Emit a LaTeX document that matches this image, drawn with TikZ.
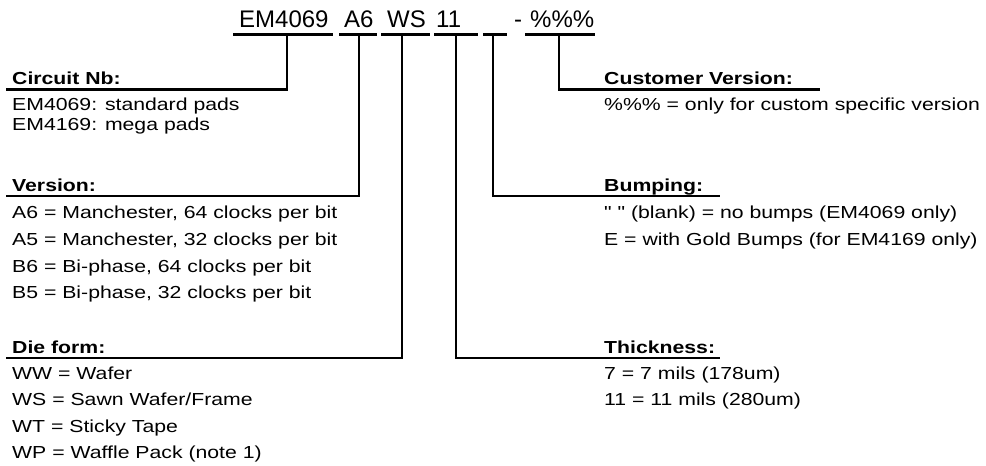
\documentclass[tikz,border=0pt]{standalone}
\usepackage{fontspec}
\setmainfont{Liberation Sans}
\newfontfamily\bodyf[FakeStretch=1.22]{Liberation Sans}
\newfontfamily\codef{Liberation Sans}
\begin{document}
\begin{tikzpicture}[x=1pt,y=-1pt,
  codetxt/.style={font=\codef\fontsize{24}{28}\selectfont, inner sep=0pt, anchor=base west},
  hdr/.style={font=\bodyf\fontsize{17.4}{20}\selectfont\bfseries, inner sep=0pt, anchor=base west},
  txt/.style={font=\bodyf\fontsize{17.4}{20}\selectfont, inner sep=0pt, anchor=base west},
  ubar/.style={fill=black, draw=none, inner sep=0pt, minimum height=3pt},
  conn/.style={line width=2.8pt}]
\useasboundingbox (0,0) rectangle (986,466);

% part number code
\node[codetxt] (tEM) at (239,27) {EM4069};
\node[codetxt] (tA6) at (344,27) {A6};
\node[codetxt] (tWS) at (387,27) {WS};
\node[codetxt] (t11) at (436,27) {11};
\node[codetxt] (tdash) at (514,27) {-};
\node[codetxt] (tpct) at (530,27) {\%\%\%};

\node[ubar, minimum width=100pt] (bEM) at (283,34.5) {};
\node[ubar, minimum width=38pt] (bA6) at (358,34.5) {};
\node[ubar, minimum width=49pt] (bWS) at (405.5,34.5) {};
\node[ubar, minimum width=44pt] (b11) at (456,34.5) {};
\node[ubar, minimum width=24pt] (bBl) at (495,34.5) {};
\node[ubar, minimum width=70pt] (bPct) at (560,34.5) {};

% left column
\node[hdr] (hCirc) at (12,84) {Circuit Nb:};
\node[txt] (c1) at (12,110) {EM4069: standard pads};
\node[txt] (c2) at (12,130) {EM4169: mega pads};

\node[hdr] (hVer) at (12,191.5) {Version:};
\node[txt] (v1) at (12,218) {A6 = Manchester, 64 clocks per bit};
\node[txt] (v2) at (12,245) {A5 = Manchester, 32 clocks per bit};
\node[txt] (v3) at (12,272) {B6 = Bi-phase, 64 clocks per bit};
\node[txt] (v4) at (12,298) {B5 = Bi-phase, 32 clocks per bit};

\node[hdr] (hDie) at (12,353.5) {Die form:};
\node[txt] (d1) at (12,379) {WW = Wafer};
\node[txt] (d2) at (12,405.5) {WS = Sawn Wafer/Frame};
\node[txt] (d3) at (12,432) {WT = Sticky Tape};
\node[txt] (d4) at (12,458) {WP = Waffle Pack (note 1)};

% right column
\node[hdr] (hCust) at (604,84) {Customer Version:};
\node[txt] (u1) at (604,110) {\%\%\% = only for custom specific version};

\node[hdr] (hBump) at (604,191.5) {Bumping:};
\node[txt] (p1) at (604,218) {\char34\ \char34\ (blank) = no bumps (EM4069 only)};
\node[txt] (p2) at (604,245) {E = with Gold Bumps (for EM4169 only)};

\node[hdr] (hThk) at (604,353.5) {Thickness:};
\node[txt] (k1) at (604,379) {7 = 7 mils (178um)};
\node[txt] (k2) at (604,405.5) {11 = 11 mils (280um)};

% connector ends (header underlines)
\coordinate (eCirc) at (6,89.5);
\coordinate (eVer) at (6,196);
\coordinate (eDie) at (6,358);
\coordinate (eCust) at (820,89.5);
\coordinate (eBump) at (720,196);
\coordinate (eThk) at (720,358);

\draw[conn] ([xshift=4pt]bEM.center) |- (eCirc);
\draw[conn] ([xshift=1pt]bA6.center) |- (eVer);
\draw[conn] ([xshift=-3.5pt]bWS.center) |- (eDie);
\draw[conn] (b11.center) |- (eThk);
\draw[conn] ([xshift=-2pt]bBl.center) |- (eBump);
\draw[conn] ([xshift=-1pt]bPct.center) |- (eCust);
\end{tikzpicture}
\end{document}
